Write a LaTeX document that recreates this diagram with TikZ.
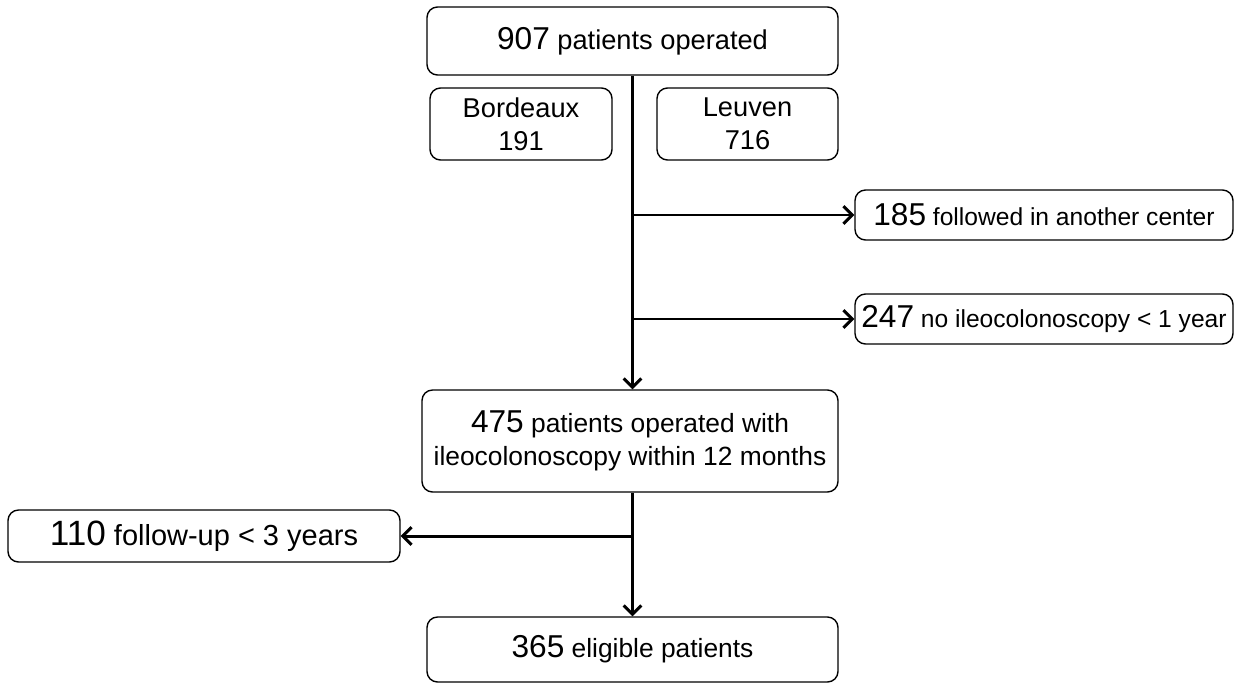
\documentclass[tikz,border=0pt]{standalone}
\usepackage{fontspec}
\setmainfont{Liberation Sans}
\usetikzlibrary{arrows.meta}

\newcommand{\num}[1]{{\fontsize{18}{21}\selectfont #1}}

\begin{document}
\begin{tikzpicture}[>={Straight Barb[length=5pt,width=10pt]}]
    \tikzset{
        box/.style={draw, rounded corners=6pt, line width=0.8pt, align=center,
            font=\fontsize{15}{19}\selectfont, inner sep=2pt},
        flow/.style={->, line width=1.7pt}
    }
    \useasboundingbox (0,0) rectangle (24.7,-13.68);

    \node[box, minimum width=8.22cm, minimum height=1.36cm, font=\fontsize{15.5}{19}\selectfont] (total) at (12.65,-0.82) {\num{907} patients operated};
    \node[box, minimum width=3.64cm, minimum height=1.44cm, font=\fontsize{15.5}{19}\selectfont] (bdx) at (10.42,-2.48) {Bordeaux\\191};
    \node[box, minimum width=3.62cm, minimum height=1.44cm, font=\fontsize{15.5}{19}\selectfont] (leu) at (14.95,-2.48) {Leuven\\716};

    \node[box, minimum width=7.56cm, minimum height=1.0cm, font=\fontsize{14}{17}\selectfont] (other) at (20.88,-4.3) {\num{185} followed in another center};
    \node[box, minimum width=7.56cm, minimum height=1.0cm, font=\fontsize{14}{17}\selectfont] (noileo) at (20.88,-6.38) {\num{247} no ileocolonoscopy < 1 year};

    \node[box, minimum width=8.32cm, minimum height=2.04cm] (ileo) at (12.6,-8.82) {\num{475} patients operated with\\ileocolonoscopy within 12 months};
    \node[box, minimum width=7.84cm, minimum height=1.04cm, font=\fontsize{16.5}{20}\selectfont] (short) at (4.08,-10.72) {{\fontsize{20}{22}\selectfont 110} follow-up < 3 years};
    \node[box, minimum width=8.22cm, minimum height=1.3cm] (elig) at (12.65,-12.99) {\num{365} eligible patients};

    % main trunk
    \coordinate (b1) at (total.south |- other.west);
    \coordinate (b2) at (total.south |- noileo.west);
    \coordinate (b3) at (total.south |- short.east);
    \draw[flow] (total.south) -- (total.south |- ileo.north);
    \draw[flow] (b1) -- (other.west);
    \draw[flow] (b2) -- (noileo.west);
    \draw[flow] (total.south |- ileo.south) -- (total.south |- elig.north);
    \draw[flow] (b3) -- (short.east);
\end{tikzpicture}
\end{document}
